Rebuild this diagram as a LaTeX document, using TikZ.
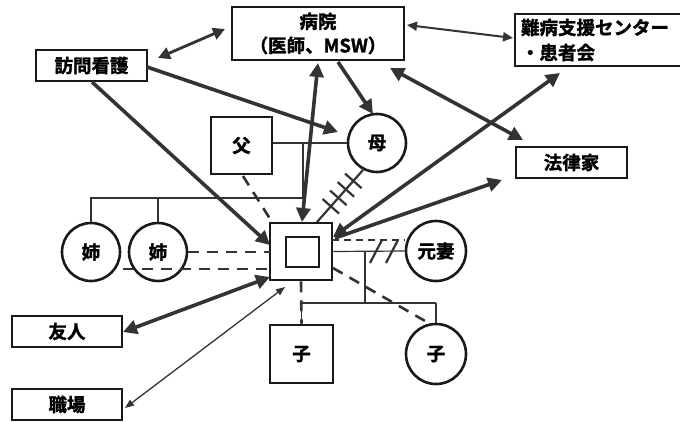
\documentclass[tikz,border=0pt]{standalone}
\usepackage{fontspec}
\setmainfont{Noto Sans CJK JP}[BoldFont={Noto Sans CJK JP Bold}, BoldFeatures={FakeBold=1.6}]
\usetikzlibrary{arrows.meta,decorations.markings,calc}
\definecolor{ln}{HTML}{333333}
\begin{document}
\begin{tikzpicture}[x=1pt,y=-1pt,
  lbl/.style={font=\fontsize{18.5}{23}\selectfont\bfseries, inner sep=0pt, align=center},
  box/.style={lbl, draw=black!90, line width=2.6pt, rectangle},
  circ/.style={lbl, draw=black!90, line width=2.6pt, circle},
  fam/.style={draw=ln, line width=1.2pt},
  dsh/.style={draw=ln, line width=2.6pt, dash pattern=on 11pt off 8pt},
  bigarr/.style={draw=ln, line width=3.6pt},
  midarr/.style={draw=ln, line width=2.8pt},
  smallarr/.style={draw=ln, line width=2pt},
  thinarr/.style={draw=ln, line width=1.3pt},
  T/.tip={Triangle[length=14pt,width=14pt]},
  M/.tip={Triangle[length=12pt,width=12pt]},
  S/.tip={Triangle[length=10pt,width=9pt]},
  X/.tip={Triangle[length=9pt,width=7pt]}
]
\useasboundingbox (0,0) rectangle (680,422);

% nodes
\node[box, minimum width=172pt, minimum height=53pt, font=\fontsize{18.5}{24}\selectfont\bfseries] (hosp) at (318,33.5) {病院\\（医師、MSW）};
\node[box, minimum width=168pt, minimum height=52pt, align=left, text width=156pt, font=\fontsize{18.5}{25}\selectfont\bfseries] (nanbyo) at (599,40) {難病支援センター\\・患者会};
\node[box, minimum width=111pt, minimum height=31pt] (houmon) at (91.5,65.5) {訪問看護};
\node[box, minimum width=111pt, minimum height=31pt] (houritsu) at (571.5,162.5) {法律家};
\node[box, minimum width=61pt, minimum height=57pt] (father) at (241.5,145.5) {父};
\node[circ, minimum size=58pt] (mother) at (377,143) {母};
\node[box, minimum width=62pt, minimum height=57pt] (client) at (301,251.5) {};
\node[box, minimum width=33pt, minimum height=30pt] (clientin) at (302.5,252) {};
\node[circ, minimum size=58pt] (sis1) at (91,252) {姉};
\node[circ, minimum size=58pt] (sis2) at (158,252) {姉};
\node[circ, minimum size=60pt] (exwife) at (436,251) {元妻};
\node[box, minimum width=63pt, minimum height=58pt] (sonbox) at (301.5,354) {子};
\node[circ, minimum size=60pt] (childc) at (436,354) {子};
\node[box, minimum width=110pt, minimum height=31pt] (friend) at (67,331.5) {友人};
\node[box, minimum width=110pt, minimum height=31pt] (work) at (67,404.5) {職場};

% family lines
\coordinate (pm) at (303,143);
\coordinate (sib) at (303,198);
\draw[fam] (father.east |- mother.west) -- (mother.west);
\draw[fam] (pm) -- (sib) -- (sis1.north |- sib) -- (sis1.north);
\draw[fam] (sis2.north |- sib) -- (sis2.north);
\coordinate (dv) at (365,251.5);
\coordinate (kd) at (365,303);
\draw[fam] (client.east) -- (exwife.west);
\draw[fam] (dv) -- (kd);
\draw[fam] (sonbox.north |- kd) -- (childc.north |- kd);
\draw[fam] (sonbox.north |- kd) -- (sonbox.north);
\draw[fam] (childc.north |- kd) -- (childc.north);
% divorce marks
\draw[draw=ln, line width=2.2pt] (370,263) -- (382,240);
\draw[draw=ln, line width=2.2pt] (386,263) -- (398,240);

% dashed relations
\draw[dsh] ([shift={(1.5,30.5)}]father.center) -- ([shift={(-29,-29.5)}]client.center);
\draw[dsh] (sis2.east) -- ([shift={(-31,0.5)}]client.center);
\draw[dsh] ([shift={(32,17)}]sis1.center) -- ([shift={(-31,17.5)}]client.center);
\draw[draw=ln, line width=1.8pt, dash pattern=on 7pt off 5pt] ([shift={(31,-11.5)}]client.center) -- ([shift={(-31,-11)}]exwife.center);
\draw[dsh] (client.south) -- (sonbox.north);
\draw[dsh] ([shift={(32,16.5)}]client.center) -- ([shift={(-4,-29)}]childc.center);

% conflict line mother - client
\draw[draw=ln, line width=2.2pt, postaction={decorate},
  decoration={markings, mark=between positions 0.21 and 0.72 step 0.163 with {\draw[draw=ln, line width=2.2pt] (0,-11pt) -- (0,11pt);}}]
  ([shift={(-14,27)}]mother.center) -- ([shift={(16,-29.5)}]client.center);

% arrows
\draw[midarr, {M}-{M}] ([shift={(66.5,-7.5)}]houmon.center) -- ([shift={(-93,-4.5)}]hosp.center);
\draw[smallarr, {S}-{S}] ([shift={(89,-8.5)}]hosp.center) -- ([shift={(-86,-2)}]nanbyo.center);
\draw[bigarr, -{T}] ([shift={(55.5,1.5)}]houmon.center) -- ([shift={(-39,-11)}]mother.center);
\draw[bigarr, -{T}] ([shift={(0.5,16.5)}]houmon.center) -- ([shift={(-31,-6.5)}]client.center);
\draw[bigarr, -{T}] ([shift={(20,28.5)}]hosp.center) -- ([shift={(-4,-29)}]mother.center);
\draw[bigarr, {T}-{T}] ([shift={(1,-29.5)}]client.center) -- ([shift={(0,29.5)}]hosp.center);
\draw[bigarr, {T}-{T}] ([shift={(72,34.5)}]hosp.center) -- ([shift={(-48.5,-22.5)}]houritsu.center);
\draw[bigarr, -{T}] ([shift={(34,-13.5)}]client.center) -- ([shift={(-69.5,17.5)}]houritsu.center);
\draw[bigarr, {T}-{T}] ([shift={(32,-14.5)}]client.center) -- ([shift={(-39,33)}]nanbyo.center);
\draw[bigarr, {T}-{T}] ([shift={(-31,25.5)}]client.center) -- ([shift={(56,0.5)}]friend.center);
\draw[thinarr, {X}-{X}] ([shift={(-16,35.5)}]client.center) -- ([shift={(58,3.5)}]work.center);
\end{tikzpicture}
\end{document}
